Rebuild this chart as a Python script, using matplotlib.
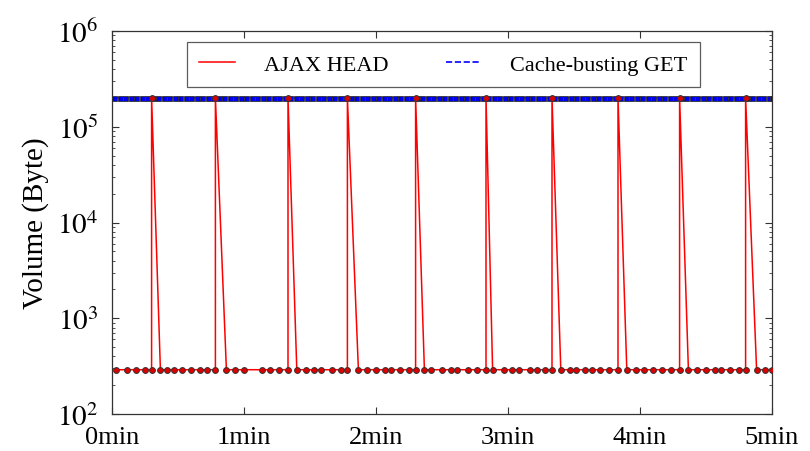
import math
import matplotlib
matplotlib.use("Agg")
import matplotlib.pyplot as plt
from matplotlib.lines import Line2D
from matplotlib.ticker import LogLocator, FixedLocator, FuncFormatter, NullFormatter

plt.rcParams['font.family'] = ['Liberation Serif', 'DejaVu Serif']
plt.rcParams['mathtext.fontset'] = 'stix'

# ---- data (seconds, bytes) ----
L = 290
H = 200000
ajax_t = [2, 7, 11, 15, 18, 18, 22, 25, 28, 32, 36, 40, 43, 47, 47, 52, 56, 60, 68, 72, 76,
          80, 80, 84, 88, 92, 95, 100, 104, 107, 107, 112, 116, 120, 124, 127, 131, 135,
          138, 138, 142, 145, 150, 154, 157, 162, 166, 170, 170, 173, 178, 182, 185, 190,
          193, 197, 200, 200, 204, 208, 211, 215, 218, 222, 226, 230, 230, 234, 238, 242,
          246, 250, 254, 258, 258, 262, 266, 270, 274, 277, 281, 285, 288, 288, 293, 297, 300]
ajax_v = [L, L, L, L, L, H, L, L, L, L, L, L, L, L, H, L, L, L, L, L, L,
          L, H, L, L, L, L, L, L, L, H, L, L, L, L, L, L, L,
          L, H, L, L, L, L, L, L, L, L, H, L, L, L, L, L,
          L, L, L, H, L, L, L, L, L, L, L, L, H, L, L, L,
          L, L, L, L, H, L, L, L, L, L, L, L, L, H, L, L, L]

get_t = [1, 3.5, 6, 8.5, 11, 13.5, 16, 18.5, 21, 23.5, 26, 28.5, 31, 33.5, 36, 38.5, 41, 43.5,
         46, 48.5, 51, 53.5, 56, 58.5, 61, 63.5, 66, 68.5, 71, 73.5, 76, 78.5, 81, 83.5, 86,
         88.5, 91, 93.5, 96, 98.5, 101, 103.5, 106, 108.5, 111, 113.5, 116, 118.5, 121, 123.5,
         126, 128.5, 131, 133.5, 136, 138.5, 141, 143.5, 146, 148.5, 151, 153.5, 156, 158.5,
         161, 163.5, 166, 168.5, 171, 173.5, 176, 178.5, 181, 183.5, 186, 188.5, 191, 193.5,
         196, 198.5, 201, 203.5, 206, 208.5, 211, 213.5, 216, 218.5, 221, 223.5, 226, 228.5,
         231, 233.5, 236, 238.5, 241, 243.5, 246, 248.5, 251, 253.5, 256, 258.5, 261, 263.5,
         266, 268.5, 271, 273.5, 276, 278.5, 281, 283.5, 286, 288.5, 291, 293.5, 296, 298.5, 300]
get_v = [H] * len(get_t)

x_ticks = [0, 60, 120, 180, 240, 300]
x_labels = ["0min", "1min", "2min", "3min", "4min", "5min"]
series_names = ["AJAX HEAD", "Cache-busting GET"]

fig = plt.figure(figsize=(8.1, 4.52), dpi=100)
ax = fig.add_axes([112/810, 1-415/452, (772-112)/810, (415-32)/452])

ax.plot(get_t, get_v, color='#0000ff', linestyle='--', linewidth=1.2,
        marker='s', markersize=3.6, markerfacecolor='#0000ee', markeredgecolor='#333333',
        markeredgewidth=0.6, zorder=2)
ax.plot(ajax_t, ajax_v, color='#ff0000', linestyle='-', linewidth=1.1,
        marker='o', markersize=4.2, markerfacecolor='#dd0000', markeredgecolor='#333333',
        markeredgewidth=0.7, zorder=3)

ax.set_yscale('log')
ax.set_ylim(1e2, 1e6)
ax.set_xlim(0, 300)

ax.xaxis.set_major_locator(FixedLocator(x_ticks))
ax.set_xticklabels(x_labels)
ax.yaxis.set_major_locator(LogLocator(base=10, numticks=10))
ax.yaxis.set_minor_locator(LogLocator(base=10, subs=range(2, 10), numticks=20))
ax.yaxis.set_minor_formatter(NullFormatter())
ax.yaxis.set_major_formatter(FuncFormatter(lambda v, p: r'$10^{%d}$' % round(math.log10(v))))

ax.tick_params(axis='both', which='major', direction='in', length=5, width=0.8,
               top=True, right=True, colors='#333333', labelcolor='black')
ax.tick_params(axis='y', which='minor', direction='in', length=2.5, width=0.6,
               right=True, colors='#333333')
ax.tick_params(axis='y', labelsize=21, pad=10)
ax.tick_params(axis='x', labelsize=19, pad=9)
for s in ax.spines.values():
    s.set_color('#333333')
    s.set_linewidth(0.9)

ax.set_ylabel("Volume (Byte)", fontsize=21, labelpad=6)

handles = [Line2D([], [], color='#ff0000', linewidth=1.1),
           Line2D([], [], color='#0000ff', linestyle='--', linewidth=1.2)]
leg = ax.legend(handles, series_names, loc='upper center', bbox_to_anchor=(0.502, 0.972),
                ncol=2, fontsize=16, frameon=True, fancybox=False, edgecolor='#333333',
                handlelength=1.6, columnspacing=2.6, handletextpad=1.3,
                borderpad=0.55, borderaxespad=0.0)
leg.get_frame().set_linewidth(0.9)

fig.savefig("out.png", dpi=100)
